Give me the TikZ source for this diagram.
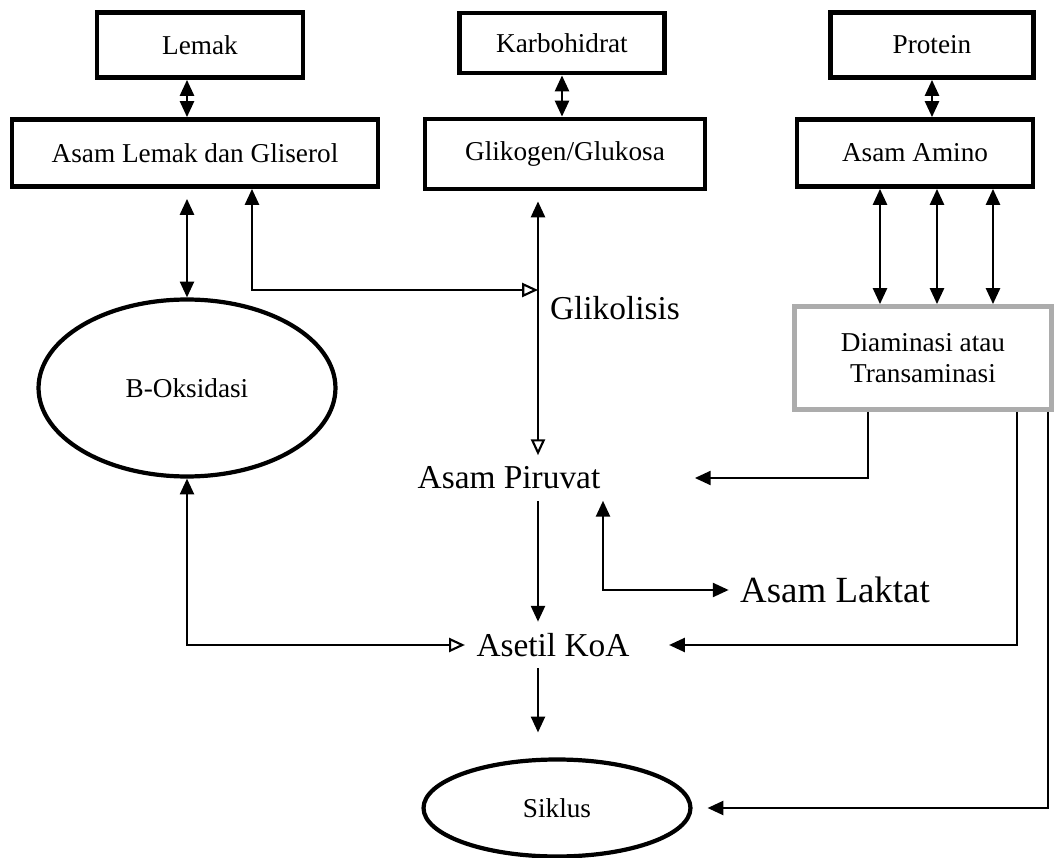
\documentclass[tikz,border=0pt]{standalone}
\usepackage{fontspec}
\setmainfont{Liberation Serif}
\usetikzlibrary{arrows.meta,shapes.geometric,positioning}
\tikzset{
  box/.style={draw, line width=2.8pt, inner sep=0pt, font=\fontsize{15.5}{18}\selectfont},
  oval/.style={draw, ellipse, line width=2.4pt, inner sep=0pt, font=\fontsize{15.5}{18}\selectfont},
  lbl/.style={inner sep=6pt, font=\fontsize{19}{22}\selectfont},
  mix/.style={arrows={Triangle[length=9pt,width=8pt]-Triangle[open,length=9pt,width=8pt]}},
}

\begin{document}
\begin{tikzpicture}[x=0.02cm, y=-0.02cm, line width=1.2pt, >={Triangle[length=9pt,width=8pt]}]
        \useasboundingbox (0,0) rectangle (1056,858);

        \node[box, minimum width=4.12cm, minimum height=1.3cm] (L) at (200,45) {Lemak};
        \node[box, minimum width=7.32cm, minimum height=1.34cm] (A) at (195,153) {Asam Lemak dan Gliserol};
        \node[box, minimum width=4.1cm, minimum height=1.2cm] (K) at (562,43) {Karbohidrat};
        \node[box, minimum width=5.6cm, minimum height=1.4cm] (G) at (565,154) {Glikogen/Glukosa};
        \node[box, minimum width=4.06cm, minimum height=1.3cm] (P) at (932,45) {Protein};
        \node[box, minimum width=4.72cm, minimum height=1.34cm] (M) at (915,153) {Asam Amino};
        \node[box, draw=gray!65, line width=2.8pt, align=center, minimum width=5.14cm, minimum height=2.06cm] (D) at (923,358) {Diaminasi atau\\Transaminasi};
        \node[oval, minimum width=5.94cm, minimum height=3.54cm] (B) at (187,388) {B-Oksidasi};
        \node[oval, minimum width=5.34cm, minimum height=1.94cm] (C) at (557,808) {Siklus};

        \node[lbl] (GL) at (615,308) {Glikolisis};
        \node[lbl] (R) at (509,478) {Asam Piruvat};
        \node[lbl, font=\fontsize{21}{24}\selectfont] (T) at (835,590) {Asam Laktat};
        \node[lbl] (S) at (553,645) {Asetil KoA};

        \coordinate (X) at (538,0);
        \coordinate (J) at (538,290);

        % sumber -> bentuk sederhana
        \draw[<->] (L.south -| B) -- (A.north -| B);
        \draw[<->] (K.south) -- (K.south |- G.north);
        \draw[<->] (P.south) -- (P.south |- M.north);
        \foreach \x in {880,937,993}
            \draw[<->] (M.south -| \x,0) -- (D.north -| \x,0);

        % lemak
        \draw[<->, shorten <=0.2cm] (A.south -| B) -- (B.north);
        \draw[mix] ([xshift=1.14cm]A.south) |- (J);
        \draw[mix] (B.south) |- (S.west);

        % glikolisis
        \draw[mix, shorten <=0.2cm] (G.south -| X) -- (R.north -| X);
        \draw[->] (R.south -| X) -- (S.north -| X);
        \draw[<->] (R.south -| 603,0) |- (T.west);
        \draw[->, shorten >=0.5cm] (S.south -| X) -- (C.north -| X);

        % asam amino
        \draw[->] (D.south -| 868,0) |- ([xshift=1.66cm]R.east);
        \draw[->] (D.south -| 1017,0) |- ([xshift=0.56cm]S.east);
        \draw[->] (D.south -| 1048,0) |- ([xshift=0.3cm]C.east);
\end{tikzpicture}
\end{document}
